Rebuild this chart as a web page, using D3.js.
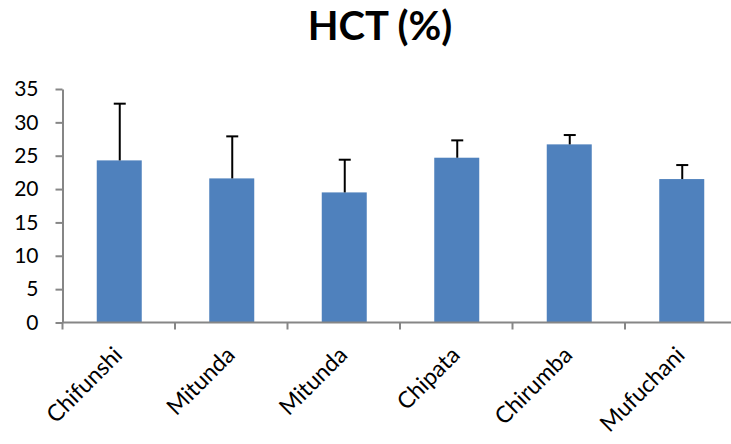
<!DOCTYPE html>
<html><head><meta charset="utf-8">
<script src="https://cdn.jsdelivr.net/npm/d3@7"></script>
<style>html,body{margin:0;padding:0;background:#fff;}svg{display:block;}</style>
</head><body>
<script>
const categories = ["Chifunshi","Mitunda","Mitunda","Chipata","Chirumba","Mufuchani"];
const means = [24.3, 21.6, 19.5, 24.7, 26.7, 21.5];
const errUpper = [32.8, 27.9, 24.4, 27.3, 28.1, 23.6];
const yTicks = [0,5,10,15,20,25,30,35];
const title = "HCT (%)";

const W = 731, H = 444;
const svg = d3.select("body").append("svg").attr("width", W).attr("height", H);
const font = "Lato, 'Open Sans', sans-serif";

const xb = d3.scaleBand().domain(d3.range(categories.length)).range([62.5, 737.5]);
const y = d3.scaleLinear().domain([0, 35]).range([322.5, 89]);

svg.append("text").attr("x", 380).attr("y", 40).attr("text-anchor", "middle")
  .attr("font-family", font).attr("font-weight", "bold").attr("font-size", 40).attr("fill", "#000").text(title);

// bars
svg.append("g").selectAll("rect").data(means).join("rect")
  .attr("x", (d,i) => xb(i) + xb.bandwidth()/2 - 22)
  .attr("width", 45)
  .attr("y", d => y(d)).attr("height", d => y(0) - y(d))
  .attr("fill", "#4F81BD");

// error bars
const eg = svg.append("g").attr("stroke", "#000").attr("stroke-width", 2);
means.forEach((m, i) => {
  const cx = xb(i) + xb.bandwidth()/2 + 1;
  eg.append("line").attr("x1", cx).attr("x2", cx).attr("y1", y(m)).attr("y2", y(errUpper[i]));
  eg.append("line").attr("x1", cx-6).attr("x2", cx+6).attr("y1", y(errUpper[i])).attr("y2", y(errUpper[i]));
});

// y axis
const yAxis = svg.append("g").attr("transform", "translate(62.5,0)")
  .call(d3.axisLeft(y).tickValues(yTicks).tickSize(7).tickSizeOuter(0).tickPadding(17));
yAxis.select(".domain").attr("stroke", "#868686").attr("stroke-width", 2);
yAxis.selectAll(".tick line").attr("stroke", "#868686").attr("stroke-width", 2);
yAxis.selectAll("text").attr("font-family", font).attr("font-size", 21).attr("fill", "#000");

// x axis
const xTicks = d3.range(categories.length + 1).map(i => 62.5 + i * xb.bandwidth());
const xg = svg.append("g");
xg.append("line").attr("x1", 62.5).attr("x2", 737.5).attr("y1", y(0)).attr("y2", y(0)).attr("stroke", "#868686").attr("stroke-width", 2);
xg.selectAll("line.t").data(xTicks).join("line").attr("class","t")
  .attr("x1", d => d).attr("x2", d => d).attr("y1", y(0)).attr("y2", y(0) + 7)
  .attr("stroke", "#868686").attr("stroke-width", 2);
xg.selectAll("text").data(categories).join("text")
  .attr("transform", (d,i) => `translate(${xb(i) + xb.bandwidth()/2 + 5},${y(0) + 34}) rotate(-45)`)
  .attr("text-anchor", "end")
  .attr("font-family", font).attr("font-size", 23).attr("fill", "#000").text(d => d);
</script>
</body></html>
